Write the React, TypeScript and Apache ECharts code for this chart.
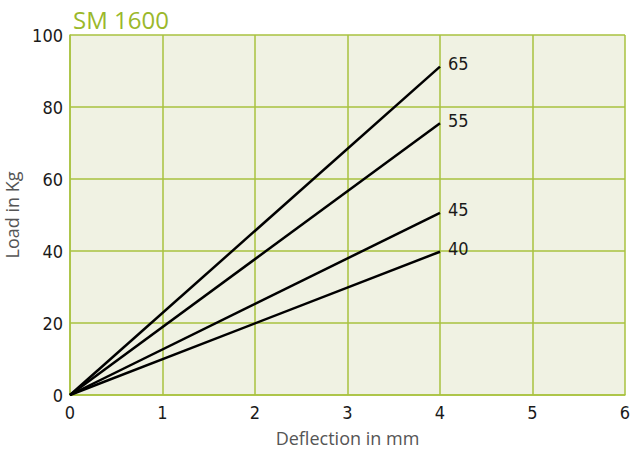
import React, { useEffect, useRef } from "react";
import * as echarts from "echarts";

const title = "SM 1600";
const xName = "Deflection in mm";
const yName = "Load in Kg";
const seriesNames = ["65", "55", "45", "40"];
const deflection = [0, 4];
const load65 = [0, 91.2];
const load55 = [0, 75.5];
const load45 = [0, 50.6];
const load40 = [0, 39.8];
const loads = [load65, load55, load45, load40];

const GREEN = "#a9c23f";
const FONT = "'Open Sans', 'Noto Sans', sans-serif";
const NARROW = "'Liberation Sans Narrow', 'DejaVu Sans Condensed', 'Roboto', sans-serif";

export default function App() {
  const ref = useRef<HTMLDivElement>(null);
  useEffect(() => {
    document.body.style.margin = "0";
    const chart = echarts.init(ref.current!, null, { renderer: "svg" });
    chart.setOption({
      animation: false,
      backgroundColor: "#ffffff",
      title: {
        text: title,
        left: 68,
        top: 2,
        textStyle: { color: "#9bb82b", fontSize: 24, lineHeight: 24, fontWeight: "normal", fontFamily: FONT },
      },
      grid: {
        left: 70,
        right: 5,
        top: 35,
        bottom: 57,
        backgroundColor: "#f0f2e3",
        show: true,
        borderWidth: 0,
        containLabel: false,
        outerBoundsMode: "none",
      },
      xAxis: {
        type: "value",
        min: 0,
        max: 6,
        interval: 1,
        name: xName,
        nameLocation: "middle",
        nameGap: 34,
        nameTextStyle: { color: "#555", fontSize: 18, fontFamily: FONT },
        axisLine: { show: true, lineStyle: { color: GREEN, width: 1.5 } },
        axisTick: { show: false },
        splitLine: { show: true, lineStyle: { color: GREEN, width: 1.5 } },
        axisLabel: { color: "#1a1a1a", fontSize: 18, fontFamily: NARROW, margin: 8 },
      },
      yAxis: {
        type: "value",
        min: 0,
        max: 100,
        interval: 20,
        name: yName,
        nameLocation: "middle",
        nameGap: 40,
        nameTextStyle: { color: "#555", fontSize: 18, fontFamily: FONT },
        axisLine: { show: true, lineStyle: { color: GREEN, width: 1.5 } },
        axisTick: { show: false },
        splitLine: { show: true, lineStyle: { color: GREEN, width: 1.5 } },
        axisLabel: { color: "#1a1a1a", fontSize: 18, fontFamily: NARROW, margin: 7 },
      },
      series: seriesNames.map((n, i) => ({
        name: n,
        type: "line",
        data: deflection.map((x, j) => [x, loads[i][j]]),
        showSymbol: false,
        lineStyle: { color: "#000", width: 2.5 },
        endLabel: {
          show: true,
          formatter: n,
          color: "#1a1a1a",
          fontSize: 18,
          fontFamily: NARROW,
          distance: 8,
          offset: [0, -3],
        },
      })),
    });
    return () => chart.dispose();
  }, []);
  return <div ref={ref} style={{ width: 630, height: 452 }} />;
}
